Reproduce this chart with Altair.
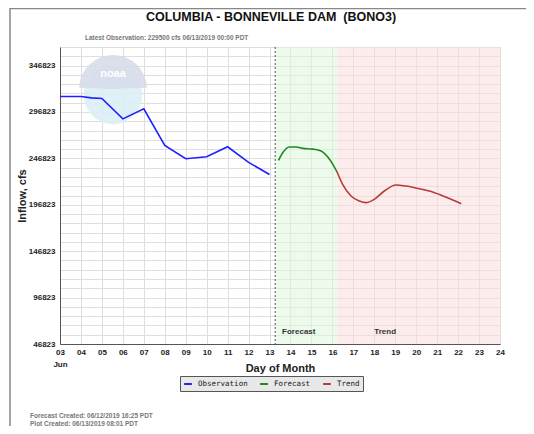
import altair as alt
import pandas as pd

# ---- data ----
obs_day = [3, 4, 4.5, 5, 6, 7, 8, 9, 10, 11, 12, 13]
obs_val = [313500, 313500, 312000, 311300, 289400, 300200, 260800, 246400, 248500, 259300, 242500, 229500]

fc_day = [13.43, 13.63, 13.95, 14.27, 14.59, 15.06, 15.46, 15.78, 16.02, 16.22]
fc_val = [244700, 252800, 259000, 259000, 257600, 256800, 254700, 248200, 240400, 232400]

tr_day = [16.22, 16.49, 16.89, 17.29, 17.6, 18.0, 18.48, 19.03, 19.51, 20.14, 20.78, 21.41, 22.15]
tr_val = [232400, 218900, 206300, 200900, 199100, 202700, 211700, 218100, 217000, 214100, 210600, 205200, 198000]

band_names = ["Forecast", "Trend"]
band_start = [13.27, 16.25]
band_end = [16.25, 24.0]
band_label_x = [13.6, 18.0]
band_label_y = [60000, 60000]

series_names = ["Observation", "Forecast", "Trend"]
series_colors = ["#1f1fff", "#1e8a1e", "#b83a3a"]

y_ticks = [46823 + 10000 * k for k in range(33)]
x_ticks = list(range(3, 25))
now_day = [13.27]

title_text = "COLUMBIA - BONNEVILLE DAM\u00a0 (BONO3)"
subtitle_text = "Latest Observation: 229500 cfs 06/13/2019 00:00 PDT"
footer_lines = ["Forecast Created: 06/12/2019 16:25 PDT", "Plot Created: 06/13/2019 08:01 PDT"]
logo_text = "noaa"

FONT = "Liberation Sans"

obs_df = pd.DataFrame({"day": obs_day, "val": obs_val, "series": "Observation"})
ft_df = pd.concat([
    pd.DataFrame({"day": fc_day, "val": fc_val, "series": "Forecast"}),
    pd.DataFrame({"day": tr_day, "val": tr_val, "series": "Trend"}),
])
band_df = pd.DataFrame({"band": band_names, "start": band_start, "end": band_end,
                        "lx": band_label_x, "ly": band_label_y})

xscale = alt.Scale(domain=[3, 24], nice=False, zero=False)
yscale = alt.Scale(domain=[46823, 366823], nice=False, zero=False)

x_axis = alt.Axis(values=x_ticks, tickCount=len(x_ticks), title="Day of Month", grid=True,
                  labelExpr="datum.value == 3 ? ['03', 'Jun'] : (datum.value < 10 ? '0' + datum.value : '' + datum.value)",
                  labelFont=FONT, labelFontWeight="bold", labelFontSize=8, labelColor="#222",
                  labelLineHeight=12, labelPadding=4, tickSize=0, labelOverlap=False, labelFlush=False,
                  titleFont=FONT, titleFontWeight="bold", titleFontSize=11, titleColor="#222",
                  titleY=27, titleBaseline="alphabetic",
                  domainColor="#555", gridColor="#dedede")
y_axis = alt.Axis(values=y_ticks, tickCount=len(y_ticks), title="Inflow, cfs", grid=True,
                  labelExpr="(datum.value - 46823) % 50000 == 0 ? format(datum.value, 'd') : ''",
                  labelFont=FONT, labelFontWeight="bold", labelFontSize=8, labelColor="#222",
                  labelPadding=5, tickSize=0, labelOverlap=False, labelFlush=False,
                  titleFont=FONT, titleFontWeight="bold", titleFontSize=11, titleColor="#222",
                  titlePadding=1,
                  domainColor="#555", gridColor="#dedede")

color_scale = alt.Scale(domain=series_names, range=series_colors)

X = lambda f: alt.X(f, scale=xscale, axis=x_axis)
Y = lambda f: alt.Y(f, scale=yscale, axis=y_axis)

bands = alt.Chart(band_df).mark_rect(opacity=0.55).encode(
    x=X("start:Q"),
    x2="end:Q",
    fill=alt.Fill("band:N", scale=alt.Scale(domain=band_names, range=["#ddf7dd", "#fbdcdc"]), legend=None),
)

# faint agency watermark (decoration)
one = pd.DataFrame({"k": [0]})
logo_circle = alt.Chart(one).mark_point(filled=True, shape="circle", size=3400, color="#dcf0f6", opacity=0.9).encode(
    x=alt.value(53), y=alt.value(48))
logo_cap = alt.Chart(one).mark_arc(theta=4.75, theta2=7.82, radius=34, innerRadius=0, color="#d8dcea", opacity=0.9).encode(
    x=alt.value(53), y=alt.value(42))
logo_txt = alt.Chart(pd.DataFrame({"t": [logo_text]})).mark_text(
    font=FONT, fontSize=11, fontWeight="bold", color="white", baseline="middle").encode(
    x=alt.value(53), y=alt.value(27), text="t:N")

now_rule = alt.Chart(pd.DataFrame({"day": now_day})).mark_rule(
    color="#555", strokeDash=[2, 2], strokeWidth=1).encode(x=X("day:Q"))

obs_line = alt.Chart(obs_df).mark_line(strokeWidth=1.6).encode(
    x=X("day:Q"),
    y=Y("val:Q"),
    color=alt.Color("series:N", scale=color_scale, legend=alt.Legend(
        orient="none", legendX=120, legendY=329, direction="horizontal", title=None,
        fillColor="#e8e8e8", strokeColor="#555", padding=3,
        symbolType="stroke", symbolStrokeWidth=2, symbolSize=60,
        labelFont="DejaVu Sans Mono", labelFontSize=7.5, labelColor="#222", labelOffset=5,
        columnPadding=8)),
)

ft_line = alt.Chart(ft_df).mark_line(strokeWidth=1.6, interpolate="monotone").encode(
    x=X("day:Q"),
    y=Y("val:Q"),
    color=alt.Color("series:N", scale=color_scale),
    detail="series:N",
)

band_text = alt.Chart(band_df).mark_text(
    align="left", baseline="middle", font=FONT, fontWeight="bold", fontSize=8, color="#333").encode(
    x=X("lx:Q"), y=Y("ly:Q"), text="band:N")

def note(txt, x, y, size=6.5, color="#777", weight="bold", align="left", baseline="middle"):
    return alt.Chart(pd.DataFrame({"t": [txt]})).mark_text(
        align=align, baseline=baseline, font=FONT, fontSize=size, fontWeight=weight, color=color).encode(
        x=alt.value(x), y=alt.value(y), text="t:N")

title = note(title_text, 211, -30, size=12.5, color="#111", align="center")
sub = note(subtitle_text, 25, -9)
foot1 = note(footer_lines[0], -30, 371, baseline="alphabetic")
foot2 = note(footer_lines[1], -30, 378.5, baseline="alphabetic")

frame = alt.Chart(one).mark_rect(
    fill=None, stroke="#888", strokeWidth=1.5).encode(
    x=alt.value(-50), x2=alt.value(520), y=alt.value(-38.5), y2=alt.value(420))

chart = alt.layer(bands, logo_circle, logo_cap, logo_txt, now_rule, obs_line, ft_line, band_text,
                  title, sub, foot1, foot2, frame).properties(
    width=440, height=297,
    autosize=alt.AutoSizeParams(type="none"),
    padding={"left": 52, "top": 39, "right": 26, "bottom": 82},
).configure_view(stroke="#666", strokeWidth=1.2).configure(background="white")

chart.save("out.html", embed_options={"renderer": "svg", "actions": False})
